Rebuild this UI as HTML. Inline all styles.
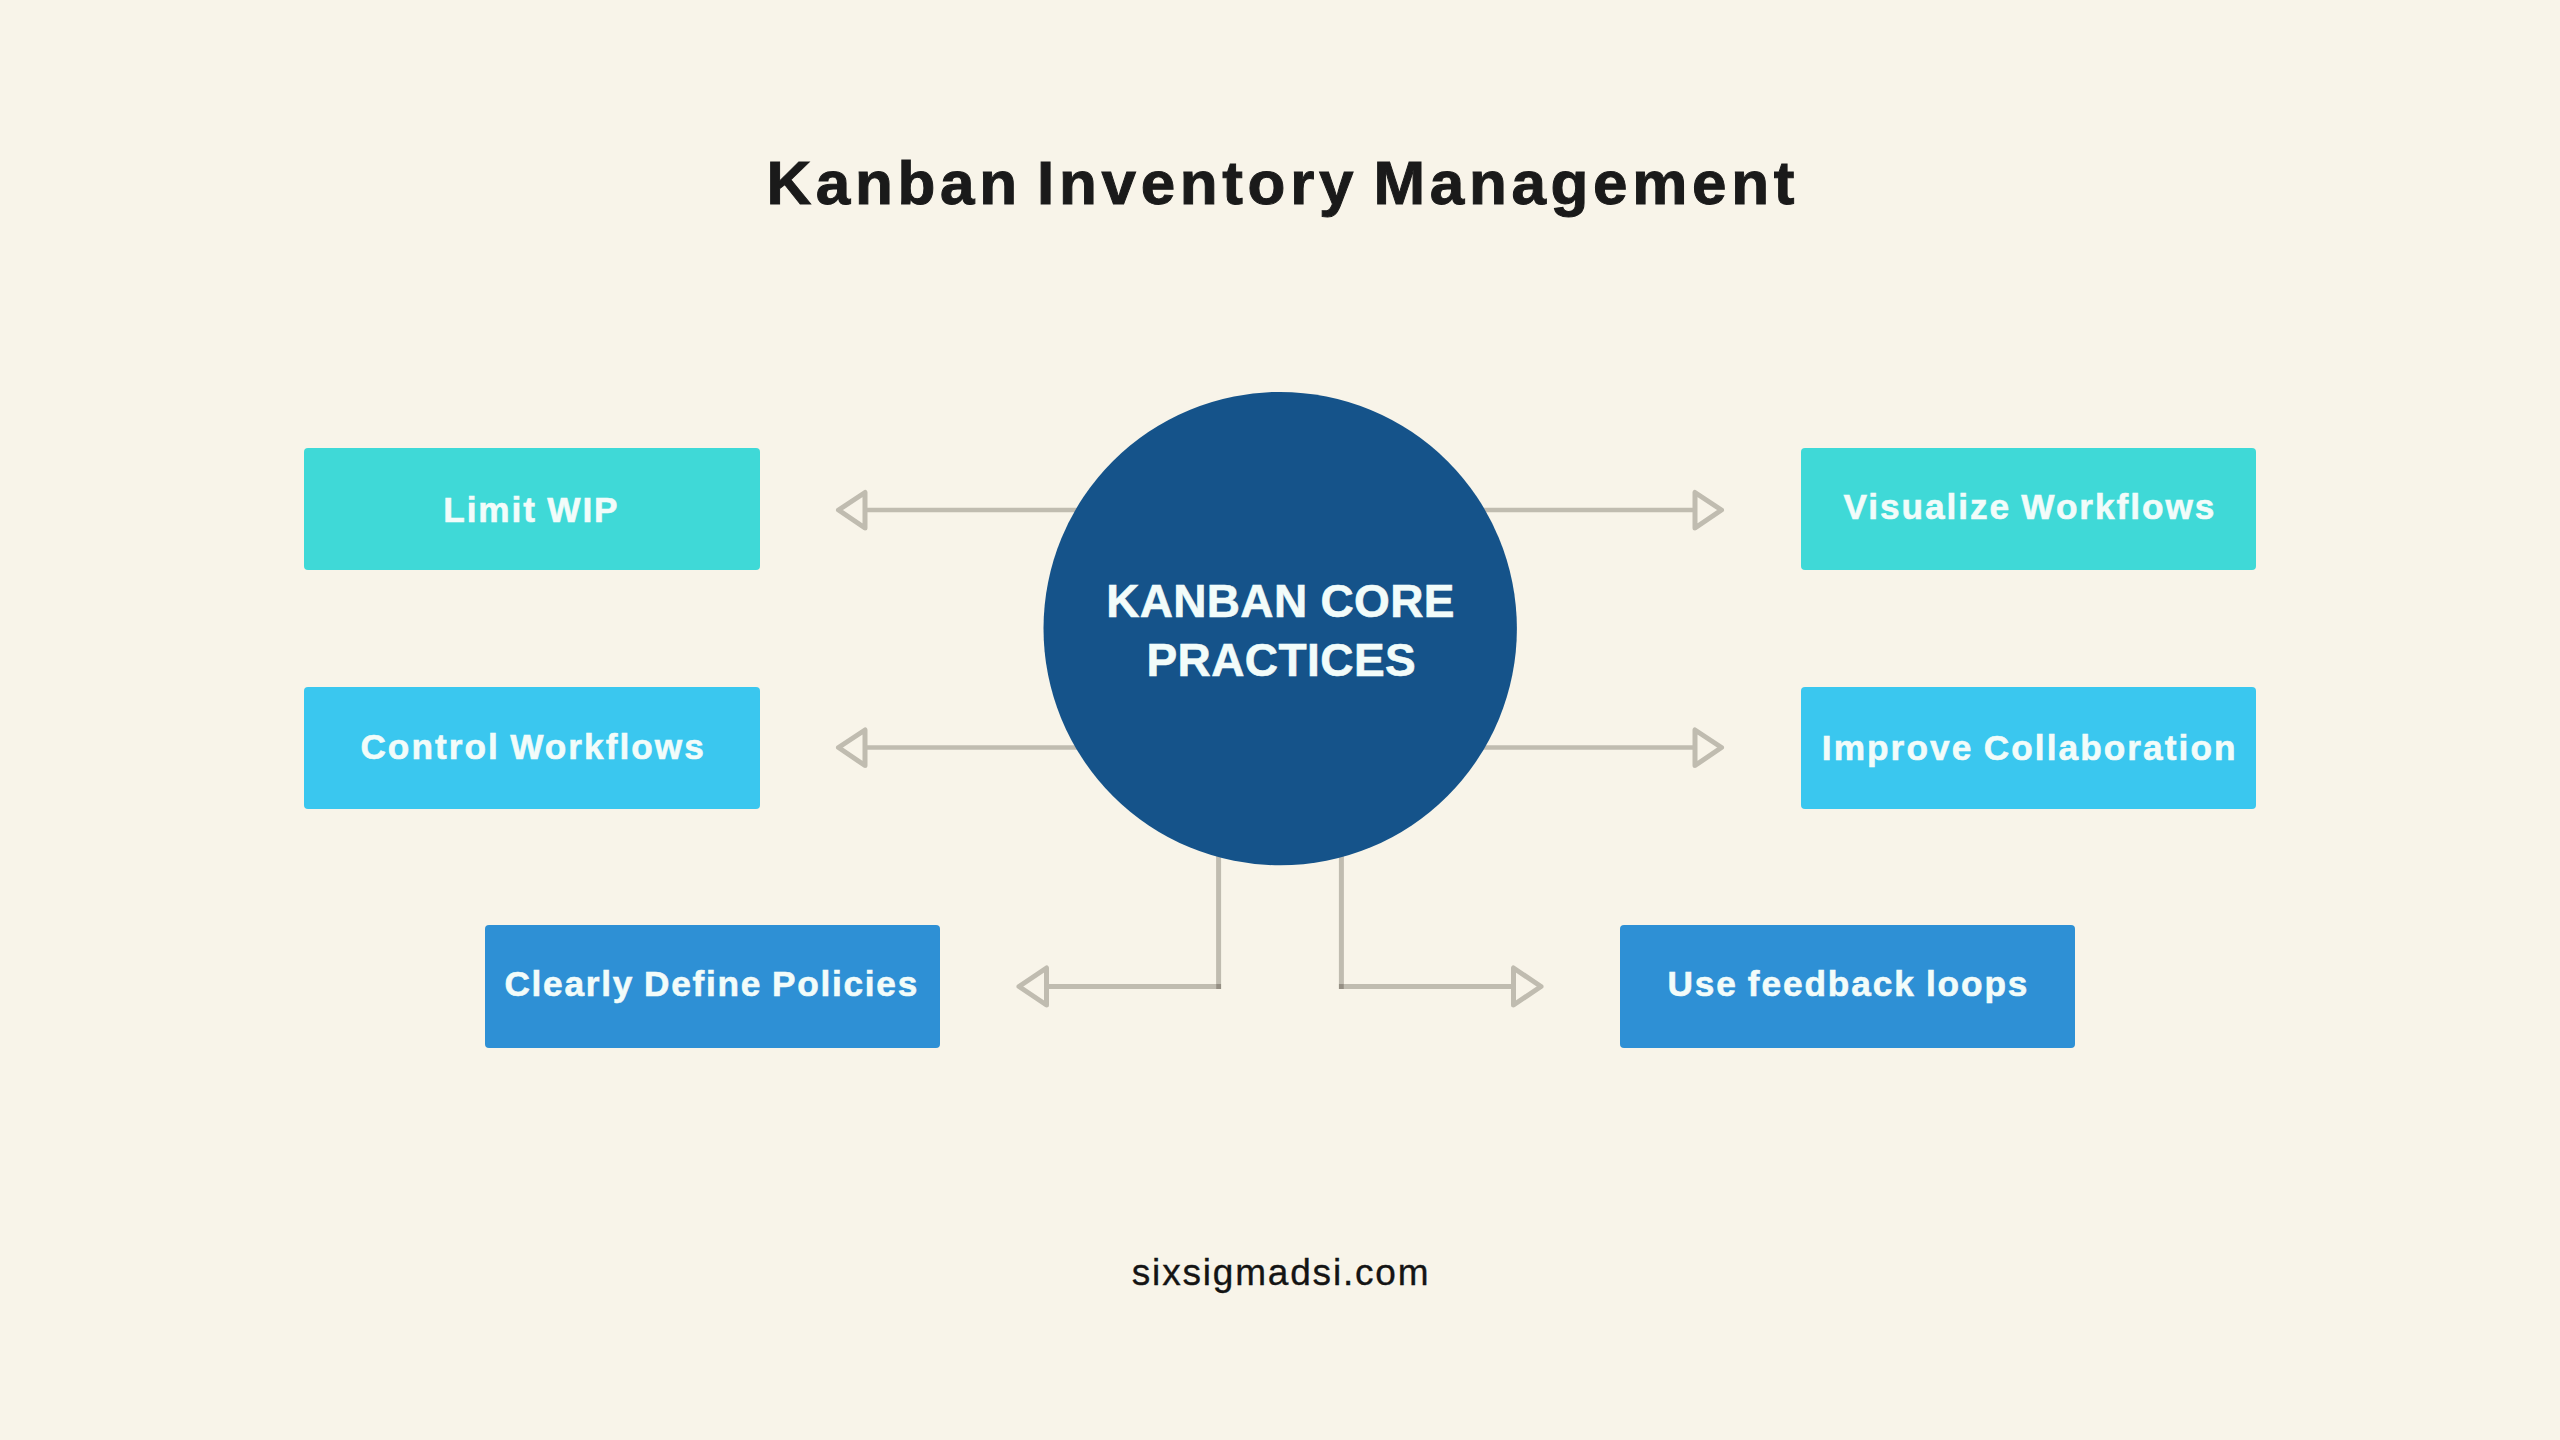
<!DOCTYPE html>
<html>
<head>
<meta charset="utf-8">
<style>
html,body{margin:0;padding:0;}
body{width:2560px;height:1440px;background:#F8F4E9;position:relative;overflow:hidden;font-family:"Liberation Sans", sans-serif;}
.t{position:absolute;white-space:nowrap;line-height:1;}
.box{position:absolute;border-radius:4px;}
.bt{position:absolute;white-space:nowrap;line-height:1;color:#F2FCFA;font-weight:bold;-webkit-text-stroke:0.6px #F2FCFA;}
svg{position:absolute;left:0;top:0;}
</style>
</head>
<body>
<div class="t" id="title" style="left:766.40px;top:152.00px;font-size:62px;letter-spacing:4.658px;word-spacing:-6.5px;font-weight:bold;color:#1A1A1A;-webkit-text-stroke:1.0px #1A1A1A;">Kanban Inventory Management</div>

<svg width="2560" height="1440" viewBox="0 0 2560 1440">
  <g stroke="#C0BCB0" fill="none" stroke-linejoin="round" stroke-linecap="butt">
    <line x1="865" y1="510" x2="1100" y2="510" stroke-width="4.5"/>
    <line x1="1460" y1="510" x2="1695" y2="510" stroke-width="4.5"/>
    <line x1="865" y1="747.5" x2="1100" y2="747.5" stroke-width="4.5"/>
    <line x1="1460" y1="747.5" x2="1695" y2="747.5" stroke-width="4.5"/>
    <line x1="1218.6" y1="820" x2="1218.6" y2="984" stroke-width="5"/>
    <line x1="1046" y1="986.5" x2="1216" y2="986.5" stroke-width="5"/>
    <line x1="1341.4" y1="820" x2="1341.4" y2="984" stroke-width="5"/>
    <line x1="1344" y1="986.5" x2="1514" y2="986.5" stroke-width="5"/>
    <polygon points="838.5,510 865,492.5 865,528" stroke-width="5"/>
    <polygon points="1721.5,510 1695,492.5 1695,528" stroke-width="5"/>
    <polygon points="838.5,747.5 865,730 865,765.5" stroke-width="5"/>
    <polygon points="1721.5,747.5 1695,730 1695,765.5" stroke-width="5"/>
    <polygon points="1019,986.5 1046.5,968 1046.5,1005" stroke-width="5"/>
    <polygon points="1541,986.5 1513.5,968 1513.5,1005" stroke-width="5"/>
  </g>
  <rect x="1216.1" y="984" width="5" height="5" fill="#958F84"/>
  <rect x="1338.9" y="984" width="5" height="5" fill="#958F84"/>
  <circle cx="1280.2" cy="628.6" r="236.7" fill="#15538A"/>
</svg>

<div class="box" style="left:304px;top:447.5px;width:455.5px;height:122.5px;background:#3FD9D7;"></div>
<div class="box" style="left:304px;top:686.5px;width:455.5px;height:122.5px;background:#3AC7EF;"></div>
<div class="box" style="left:485.4px;top:925.4px;width:454.6px;height:122.5px;background:#2E90D5;"></div>
<div class="box" style="left:1800.5px;top:447.5px;width:455.5px;height:122.5px;background:#3FD9D7;"></div>
<div class="box" style="left:1800.5px;top:686.5px;width:455.5px;height:122.5px;background:#3AC7EF;"></div>
<div class="box" style="left:1620px;top:925.4px;width:454.6px;height:122.5px;background:#2E90D5;"></div>

<div class="bt" id="b1" style="left:443.20px;top:491.60px;font-size:35.2px;letter-spacing:1.950px;word-spacing:-1.5px;">Limit WIP</div>
<div class="bt" id="b2" style="left:360.40px;top:728.60px;font-size:35.2px;letter-spacing:2.050px;word-spacing:-1.5px;">Control Workflows</div>
<div class="bt" id="b3" style="left:504.40px;top:966.10px;font-size:35.2px;letter-spacing:1.745px;word-spacing:-1.5px;">Clearly Define Policies</div>
<div class="bt" id="b4" style="left:1843.50px;top:489.40px;font-size:35.2px;letter-spacing:1.961px;word-spacing:-1.5px;">Visualize Workflows</div>
<div class="bt" id="b5" style="left:1821.80px;top:730.20px;font-size:35.2px;letter-spacing:2.090px;word-spacing:-1.5px;">Improve Collaboration</div>
<div class="bt" id="b6" style="left:1667.40px;top:966.10px;font-size:35.2px;letter-spacing:1.912px;word-spacing:-1.5px;">Use feedback loops</div>

<div class="bt" id="c1" style="left:1106.20px;top:578.00px;font-size:46px;letter-spacing:0.320px;word-spacing:0px;">KANBAN CORE</div>
<div class="bt" id="c2" style="left:1146.40px;top:636.60px;font-size:46px;letter-spacing:0.450px;word-spacing:0px;">PRACTICES</div>

<div class="t" id="foot" style="left:1131.80px;top:1254.40px;font-size:37px;letter-spacing:1.814px;word-spacing:0px;color:#141414;-webkit-text-stroke:0.35px #141414;">sixsigmadsi.com</div>
</body>
</html>
